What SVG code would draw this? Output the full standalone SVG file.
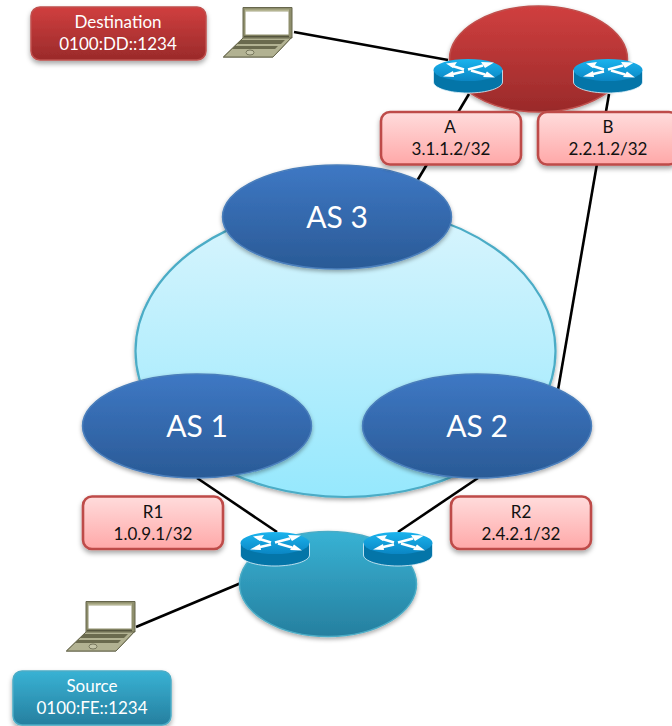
<svg xmlns="http://www.w3.org/2000/svg" width="672" height="726" viewBox="0 0 672 726">
<style>
.conn{stroke:#000;stroke-width:2.6;fill:none;stroke-linecap:butt}
text{font-family:"Lato","Open Sans","Liberation Sans",sans-serif;text-anchor:middle}
.pink{fill:url(#gPink);stroke:#be4b48;stroke-width:2.6;filter:url(#sh)}
.lbl{font-size:17px;fill:#111}
.wt{font-size:17px;fill:#fff}
.as{fill:url(#gBlue);stroke:#4a7ebb;stroke-width:1.500;filter:url(#sh2)}
.ast{font-size:30px;fill:#fff}
</style>
<defs>
<linearGradient id="gPink" x1="0" y1="0" x2="0" y2="1"><stop offset="0" stop-color="#ffdcdc"/><stop offset="1" stop-color="#ffa8a8"/></linearGradient>
<linearGradient id="gBlue" x1="0" y1="0" x2="0" y2="1"><stop offset="0" stop-color="#3e78c4"/><stop offset="1" stop-color="#2a5a96"/></linearGradient>
<linearGradient id="gRed" x1="0" y1="0" x2="0" y2="1"><stop offset="0" stop-color="#d03f3f"/><stop offset="1" stop-color="#9a2a2a"/></linearGradient>
<linearGradient id="gTeal" x1="0" y1="0" x2="0" y2="1"><stop offset="0" stop-color="#38b2d4"/><stop offset="1" stop-color="#267f9f"/></linearGradient>
<linearGradient id="gLight" x1="0" y1="0" x2="0" y2="1"><stop offset="0" stop-color="#daf5fd"/><stop offset="1" stop-color="#96e8fd"/></linearGradient>
<linearGradient id="gRt" x1="0" y1="0" x2="0" y2="1"><stop offset="0" stop-color="#1bb4ee"/><stop offset="1" stop-color="#0a86c4"/></linearGradient>
<filter id="sh" x="-15%" y="-20%" width="130%" height="150%"><feDropShadow dx="0" dy="3" stdDeviation="2.500" flood-color="#000" flood-opacity=".35"/></filter>
<filter id="sh2" x="-15%" y="-20%" width="130%" height="150%"><feDropShadow dx="0" dy="2" stdDeviation="2" flood-color="#000" flood-opacity=".35"/></filter>
<symbol id="router" width="70" height="36" viewBox="0 0 70 36" overflow="visible">
<path d="M0.500 11V23C0.500 29 16 34 35 34S69.500 29 69.500 23V11Z" fill="#0475a8" stroke="#e4f4fb" stroke-width=".8"/>
<ellipse cx="35" cy="11" rx="34.500" ry="11" fill="url(#gRt)"/>
<g fill="none" stroke="#fff" stroke-width="2.600">
<path d="M31 10.500L18 6.500"/><path d="M35 10.500L50 6.500"/><path d="M31 12.500L18 15.500"/><path d="M38 11.500L52 15.500"/>
</g>
<g fill="#fff">
<path d="M13 4.500L24 3L20 9Z"/><path d="M61 3.500L48 3L52 9Z"/><path d="M10 17.500L20 12L21 18Z"/><path d="M62 18.500L50 18L54 12.500Z"/>
</g>
</symbol>
<symbol id="laptop" width="70" height="52" viewBox="0 0 70 52" overflow="visible">
<path d="M20 .5H69V30L50 50H.5L20 31Z" fill="#8f8f6d" stroke="#66664c" stroke-width="1"/>
<path d="M22 2.500H66V4.500H22Z" fill="#b5b592"/>
<rect x="22.500" y="4.500" width="43" height="23" fill="#fff"/>
<path d="M20 31H69V30L50 50H.5Z" fill="#b2b292" stroke="#66664c" stroke-width="1"/>
<path d="M21 29.500H66" stroke="#55553f" stroke-width="1.500"/>
<path d="M18 33H62L58 37H14ZM12 39H55L52 42H9Z" fill="#6a6a4e"/>
<ellipse cx="27" cy="45.500" rx="4" ry="2.500" fill="#c5c5a8" stroke="#66664c" stroke-width=".8"/>
</symbol>
</defs>
<g id="connectors">
<path class="conn" d="M294 32L448 60"/>
<path class="conn" d="M469 94L417 181"/>
<path class="conn" d="M609 94L558 390"/>
<path class="conn" d="M258 252L197 374"/>
<path class="conn" d="M311 426H362"/>
<path class="conn" d="M197 478L277 532"/>
<path class="conn" d="M478 478L398 532"/>
<path class="conn" d="M136 627L241 583"/>
</g>
<g id="core-cloud"><ellipse cx="345.500" cy="351" rx="210" ry="146" fill="url(#gLight)" stroke="#4bacc6" stroke-width="2.200" filter="url(#sh2)"/></g>
<g id="dest-cloud"><ellipse cx="538.500" cy="59" rx="89" ry="53" fill="url(#gRed)" stroke="#c0504d" stroke-width="1.500" filter="url(#sh2)"/></g>
<g id="source-cloud"><ellipse cx="328" cy="584" rx="88.500" ry="52.500" fill="url(#gTeal)" stroke="#4bacc6" stroke-width="1.500" filter="url(#sh2)"/></g>
<g id="as3"><ellipse class="as" cx="337" cy="217" rx="114.500" ry="52"/><text class="ast" x="337" y="228">AS 3</text></g>
<g id="as1"><ellipse class="as" cx="197" cy="426" rx="114.500" ry="52"/><text class="ast" x="197" y="437">AS 1</text></g>
<g id="as2"><ellipse class="as" cx="477" cy="426" rx="114.500" ry="52"/><text class="ast" x="477" y="437">AS 2</text></g>
<g id="router-a"><use href="#router" x="433" y="59"/></g>
<g id="router-b"><use href="#router" x="573" y="59"/></g>
<g id="router-r1"><use href="#router" x="240" y="532"/></g>
<g id="router-r2"><use href="#router" x="363" y="532"/></g>
<g id="laptop-dest"><use href="#laptop" x="223" y="7"/></g>
<g id="laptop-source"><use href="#laptop" x="66" y="601"/></g>
<g id="label-dest"><rect x="31" y="7" width="175" height="53" rx="9" fill="url(#gRed)" stroke="#c0504d" stroke-width="1.500" filter="url(#sh)"/><text class="wt" x="118" y="28">Destination</text><text class="wt" x="118" y="50">0100:DD::1234</text></g>
<g id="label-source"><rect x="13" y="671" width="158" height="54" rx="9" fill="url(#gTeal)" stroke="#4bacc6" stroke-width="1.500" filter="url(#sh)"/><text class="wt" x="92" y="692">Source</text><text class="wt" x="92" y="714">0100:FE::1234</text></g>
<g id="label-a"><rect class="pink" x="381" y="112" width="140" height="52.500" rx="9"/><text class="lbl" x="450" y="133">A</text><text class="lbl" x="451" y="155">3.1.1.2/32</text></g>
<g id="label-b"><rect class="pink" x="538" y="112" width="140" height="52.500" rx="9"/><text class="lbl" x="608" y="133">B</text><text class="lbl" x="608" y="155">2.2.1.2/32</text></g>
<g id="label-r1"><rect class="pink" x="83" y="496.500" width="140" height="52.500" rx="9"/><text class="lbl" x="153" y="518">R1</text><text class="lbl" x="153" y="540">1.0.9.1/32</text></g>
<g id="label-r2"><rect class="pink" x="451" y="496.500" width="140" height="52.500" rx="9"/><text class="lbl" x="521" y="518">R2</text><text class="lbl" x="521" y="540">2.4.2.1/32</text></g>
</svg>
